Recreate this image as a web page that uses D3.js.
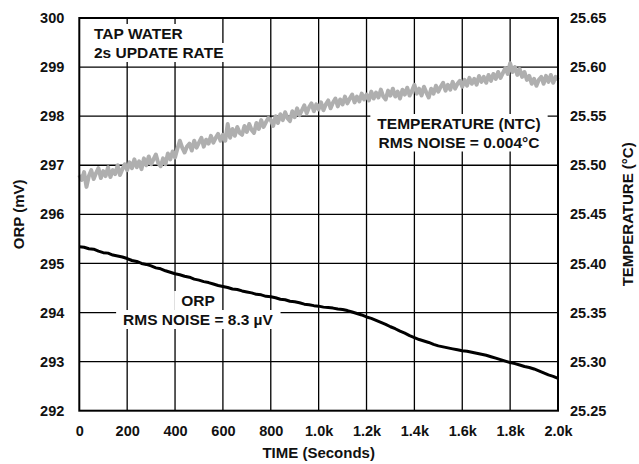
<!DOCTYPE html>
<html>
<head>
<meta charset="utf-8">
<script src="https://cdn.jsdelivr.net/npm/d3@7"></script>
<style>
  html, body { margin: 0; padding: 0; background: #fff; }
  svg { display: block; }
  text { font-family: "Liberation Sans", Arial, Helvetica, sans-serif; font-weight: bold; fill: #111; }
</style>
</head>
<body>
<svg id="chart" width="639" height="464"></svg>
<script>
// ---------- DATA ----------
const orpStep = 20;   // seconds between ORP samples
const orpValues = [
  295.34, 295.33, 295.30, 295.29, 295.25, 295.22, 295.21, 295.17, 295.15, 295.13,
  295.10, 295.06, 295.04, 295.00, 294.98, 294.95, 294.91, 294.89, 294.85, 294.82,
  294.79, 294.77, 294.74, 294.72, 294.68, 294.66, 294.63, 294.61, 294.58, 294.55,
  294.53, 294.51, 294.48, 294.47, 294.44, 294.42, 294.40, 294.37, 294.36, 294.33,
  294.32, 294.30, 294.27, 294.26, 294.23, 294.22, 294.20, 294.17, 294.16, 294.14,
  294.13, 294.11, 294.10, 294.09, 294.07, 294.06, 294.04, 294.01, 293.98, 293.95,
  293.91, 293.88, 293.84, 293.80, 293.76, 293.71, 293.67, 293.62, 293.58, 293.53,
  293.49, 293.45, 293.42, 293.39, 293.35, 293.32, 293.30, 293.28, 293.26, 293.24,
  293.22, 293.21, 293.19, 293.17, 293.15, 293.13, 293.10, 293.07, 293.04, 293.01,
  292.98, 292.96, 292.93, 292.90, 292.88, 292.85, 292.81, 292.77, 292.73, 292.70,
  292.66
];

const tempStep = 10;  // seconds between temperature samples
const tempValues = [
  25.490, 25.485, 25.493, 25.478, 25.489, 25.495, 25.486, 25.492, 25.497, 25.487,
  25.494, 25.489, 25.498, 25.488, 25.495, 25.491, 25.500, 25.490, 25.496, 25.501,
  25.495, 25.503, 25.497, 25.506, 25.498, 25.504, 25.496, 25.507, 25.500, 25.509,
  25.501, 25.506, 25.511, 25.502, 25.499, 25.507, 25.501, 25.512, 25.506, 25.514,
  25.508, 25.517, 25.525, 25.518, 25.513, 25.519, 25.522, 25.515, 25.525, 25.518,
  25.523, 25.528, 25.519, 25.526, 25.522, 25.530, 25.523, 25.528, 25.532, 25.525,
  25.531, 25.525, 25.542, 25.528, 25.537, 25.530, 25.539, 25.533, 25.531, 25.540,
  25.534, 25.542, 25.536, 25.533, 25.543, 25.537, 25.546, 25.539, 25.544, 25.548,
  25.546, 25.540, 25.550, 25.543, 25.552, 25.546, 25.554, 25.548, 25.545, 25.555,
  25.549, 25.558, 25.551, 25.556, 25.561, 25.553, 25.559, 25.563, 25.555, 25.562,
  25.557, 25.564, 25.556, 25.562, 25.566, 25.558, 25.564, 25.568, 25.560, 25.567,
  25.562, 25.570, 25.563, 25.568, 25.572, 25.564, 25.570, 25.565, 25.573, 25.567,
  25.572, 25.566, 25.575, 25.568, 25.574, 25.569, 25.577, 25.570, 25.567, 25.576,
  25.571, 25.578, 25.570, 25.575, 25.568, 25.577, 25.572, 25.579, 25.571, 25.576,
  25.582, 25.573, 25.578, 25.571, 25.580, 25.574, 25.569, 25.578, 25.573, 25.581,
  25.575, 25.580, 25.584, 25.576, 25.582, 25.577, 25.585, 25.578, 25.583, 25.586,
  25.580, 25.587, 25.581, 25.589, 25.583, 25.588, 25.582, 25.591, 25.585, 25.590,
  25.584, 25.592, 25.586, 25.593, 25.588, 25.595, 25.589, 25.594, 25.599, 25.593,
  25.604, 25.595, 25.600, 25.592, 25.598, 25.590, 25.595, 25.587, 25.591, 25.583,
  25.588, 25.581, 25.587, 25.590, 25.583, 25.591, 25.585, 25.592, 25.584, 25.590,
  25.587
];

const xTicks = [0, 200, 400, 600, 800, 1000, 1200, 1400, 1600, 1800, 2000];
const xTickLabels = ["0", "200", "400", "600", "800", "1.0k", "1.2k", "1.4k", "1.6k", "1.8k", "2.0k"];
const orpTicks = [292, 293, 294, 295, 296, 297, 298, 299, 300];
const tempTicks = [25.25, 25.30, 25.35, 25.40, 25.45, 25.50, 25.55, 25.60, 25.65];

// ---------- LAYOUT ----------
const svg = d3.select("#chart");
const L = 79.3, R = 558, T = 18, B = 410.7;

const x = d3.scaleLinear().domain([0, 2000]).range([L, R]);
const yO = d3.scaleLinear().domain([292, 300]).range([B, T]);
const yT = d3.scaleLinear().domain([25.25, 25.65]).range([B, T]);

// grid
const grid = svg.append("g").attr("stroke", "#000").attr("stroke-width", 1.3);
grid.selectAll("line.v").data(xTicks.slice(1, -1)).enter().append("line")
  .attr("x1", d => x(d)).attr("x2", d => x(d)).attr("y1", T).attr("y2", B);
grid.selectAll("line.h").data(orpTicks.slice(1, -1)).enter().append("line")
  .attr("x1", L).attr("x2", R).attr("y1", d => yO(d)).attr("y2", d => yO(d));

// axes (tick labels) using d3 axes
const fs = 14.5;
const axB = svg.append("g").attr("transform", `translate(0,${B})`)
  .call(d3.axisBottom(x).tickValues(xTicks).tickFormat((d, i) => xTickLabels[i]).tickSize(0).tickPadding(15));
const axL = svg.append("g").attr("transform", `translate(${L},0)`)
  .call(d3.axisLeft(yO).tickValues(orpTicks).tickFormat(d3.format("d")).tickSize(0).tickPadding(15));
const axR = svg.append("g").attr("transform", `translate(${R},0)`)
  .call(d3.axisRight(yT).tickValues(tempTicks).tickFormat(d3.format(".2f")).tickSize(0).tickPadding(12));
[axB, axL, axR].forEach(a => {
  a.select(".domain").remove();
  a.selectAll("text").attr("font-size", fs).attr("font-family", null).style("fill", "#111");
});

// lines
const tempLine = d3.line().x((d, i) => x(i * tempStep)).y(d => yT(d));
const orpLine = d3.line().x((d, i) => x(i * orpStep)).y(d => yO(d));

svg.append("path").datum(tempValues).attr("d", tempLine)
  .attr("fill", "none").attr("stroke", "#afafaf").attr("stroke-width", 4).attr("stroke-linejoin", "round");
svg.append("path").datum(orpValues).attr("d", orpLine)
  .attr("fill", "none").attr("stroke", "#000").attr("stroke-width", 3).attr("stroke-linejoin", "round");

// frame
svg.append("rect").attr("x", L).attr("y", T).attr("width", R - L).attr("height", B - T)
  .attr("fill", "none").attr("stroke", "#000").attr("stroke-width", 2);

// annotation helper with white background per line
function label(lines, xpos, anchor, padX, padY) {
  const g = svg.append("g");
  lines.forEach(l => {
    const t = g.append("text").attr("x", xpos).attr("y", l.y).attr("text-anchor", anchor)
      .attr("font-size", 15.5).text(l.text);
    const bb = t.node().getBBox();
    g.insert("rect", "text").attr("x", bb.x - padX).attr("y", bb.y - padY)
      .attr("width", bb.width + 2 * padX).attr("height", bb.height + 2 * padY).attr("fill", "#fff");
  });
}
label([{text: "TAP WATER", y: 39}, {text: "2s UPDATE RATE", y: 58}], 94, "start", 5, 1);
label([{text: "TEMPERATURE (NTC)", y: 129}, {text: "RMS NOISE = 0.004°C", y: 147.5}], 459, "middle", 7, 1);
label([{text: "ORP", y: 306}, {text: "RMS NOISE = 8.3 µV", y: 325}], 198, "middle", 7, 1);

// axis titles
svg.append("text").attr("x", x(1000)).attr("y", 458).attr("text-anchor", "middle")
  .attr("font-size", 15).text("TIME (Seconds)");
svg.append("text").attr("transform", `translate(24,${(T + B) / 2}) rotate(-90)`).attr("text-anchor", "middle")
  .attr("font-size", 15).text("ORP (mV)");
svg.append("text").attr("transform", `translate(633,${(T + B) / 2}) rotate(-90)`).attr("text-anchor", "middle")
  .attr("font-size", 15).text("TEMPERATURE (°C)");
</script>
</body>
</html>
